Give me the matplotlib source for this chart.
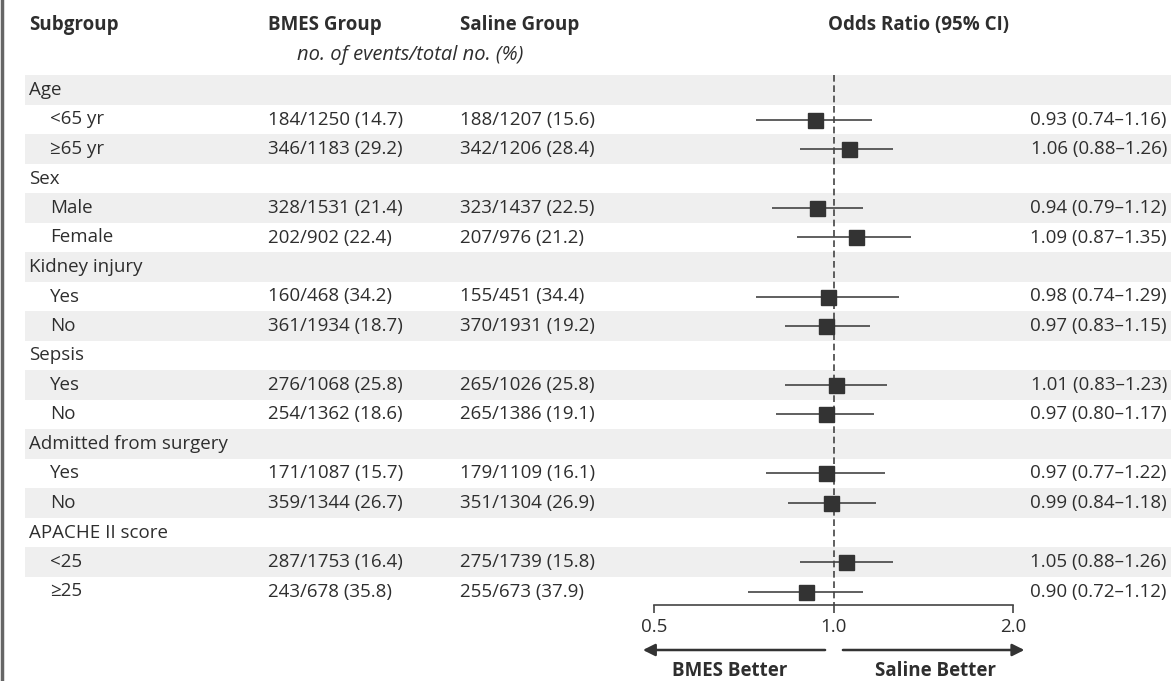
import matplotlib
matplotlib.use("Agg")
import matplotlib.pyplot as plt

plt.rcParams['font.family'] = ['Open Sans', 'DejaVu Sans']

# Subgroups: each group name followed by its levels
groups = ["Age", "Sex", "Kidney injury", "Sepsis", "Admitted from surgery", "APACHE II score"]
levels = [["<65 yr", "≥65 yr"], ["Male", "Female"], ["Yes", "No"],
          ["Yes", "No"], ["Yes", "No"], ["<25", "≥25"]]

# no. of events / total no. (%)
bmes_events = [184, 346, 328, 202, 160, 361, 276, 254, 171, 359, 287, 243]
bmes_total = [1250, 1183, 1531, 902, 468, 1934, 1068, 1362, 1087, 1344, 1753, 678]
bmes_pct = [14.7, 29.2, 21.4, 22.4, 34.2, 18.7, 25.8, 18.6, 15.7, 26.7, 16.4, 35.8]
saline_events = [188, 342, 323, 207, 155, 370, 265, 265, 179, 351, 275, 255]
saline_total = [1207, 1206, 1437, 976, 451, 1931, 1026, 1386, 1109, 1304, 1739, 673]
saline_pct = [15.6, 28.4, 22.5, 21.2, 34.4, 19.2, 25.8, 19.1, 16.1, 26.9, 15.8, 37.9]

# odds ratios with 95% CI
odds_ratio = [0.93, 1.06, 0.94, 1.09, 0.98, 0.97, 1.01, 0.97, 0.97, 0.99, 1.05, 0.90]
ci_low = [0.74, 0.88, 0.79, 0.87, 0.74, 0.83, 0.83, 0.80, 0.77, 0.84, 0.88, 0.72]
ci_high = [1.16, 1.26, 1.12, 1.35, 1.29, 1.15, 1.23, 1.17, 1.22, 1.18, 1.26, 1.12]

axis_ticks = [0.5, 1.0, 2.0]
axis_ticklabels = ["0.5", "1.0", "2.0"]

TXT = "#2e2e2e"
DARK = "#333333"
BAND = "#efefef"
FS = 13.5

W, H = 1171, 681
ROW0, ROW_H = 90, 29.5  # first row centre and row pitch, in pixels


def row(pix):
    return (pix - ROW0) / ROW_H


fig = plt.figure(figsize=(W / 100, H / 100), dpi=100)
bg = fig.add_axes([0, 0, 1, 1])
bg.set_xlim(0, W)
bg.set_ylim(row(H), row(0))
bg.axis("off")

ax = fig.add_axes([654 / W, 0, 359 / W, 1])
ax.set_xscale("log")
ax.set_xlim(0.5, 2.0)
ax.set_ylim(row(H), row(0))
ax.patch.set_visible(False)

# build the row table
rows = []
k = 0
for g, lv in zip(groups, levels):
    rows.append((g, None))
    for name in lv:
        rows.append((name, k))
        k += 1

for i, (label, idx) in enumerate(rows):
    if i % 2 == 0:
        bg.fill_between([25, W], i - 0.5, i + 0.5, color=BAND, lw=0, zorder=0)
    if idx is None:
        bg.text(29, i, label, fontsize=FS, color=TXT, va="center")
        continue
    bg.text(50, i, label, fontsize=FS, color=TXT, va="center")
    bg.text(268, i, f"{bmes_events[idx]}/{bmes_total[idx]} ({bmes_pct[idx]:.1f})",
            fontsize=FS, color=TXT, va="center")
    bg.text(460, i, f"{saline_events[idx]}/{saline_total[idx]} ({saline_pct[idx]:.1f})",
            fontsize=FS, color=TXT, va="center")
    bg.text(1167, i, f"{odds_ratio[idx]:.2f} ({ci_low[idx]:.2f}\u2013{ci_high[idx]:.2f})",
            fontsize=FS, color=TXT, va="center", ha="right")
    ax.plot([ci_low[idx], ci_high[idx]], [i, i], color="#444444", lw=1.2,
            solid_capstyle="butt", clip_on=False, zorder=2)
    ax.plot(odds_ratio[idx], i, marker="s", ms=10.8, color=DARK, mec=DARK,
            clip_on=False, zorder=3)

# column headers
bg.text(29, row(25), "Subgroup", fontsize=FS, fontweight="bold", color=TXT, va="center")
bg.text(268, row(25), "BMES Group", fontsize=FS, fontweight="bold", color=TXT, va="center")
bg.text(460, row(25), "Saline Group", fontsize=FS, fontweight="bold", color=TXT, va="center")
bg.text(410, row(55), "no. of events/total no. (%)", fontsize=14.5, style="italic",
        color=TXT, va="center", ha="center")
bg.text(918, row(25), "Odds Ratio (95% CI)", fontsize=FS, fontweight="bold",
        color=TXT, va="center", ha="center")

# left frame edge
bg.axvline(1.5, color="#666666", lw=2.5)

# reference line and axis
axis_y = row(605)
ax.vlines(1.0, -0.5, axis_y, colors="#444444", lw=1.2, linestyles=(0, (4, 2.2)), zorder=1)
for s in ["top", "left", "right"]:
    ax.spines[s].set_visible(False)
ax.spines["bottom"].set_position(("data", axis_y))
ax.spines["bottom"].set_color("#444444")
ax.spines["bottom"].set_linewidth(1.2)
ax.set_yticks([])
ax.set_xticks(axis_ticks)
ax.set_xticklabels(axis_ticklabels)
ax.minorticks_off()
ax.tick_params(axis="x", direction="out", length=6, width=1.2, color="#444444",
               labelsize=FS, labelcolor=TXT, pad=3)

# direction arrows
arrow_y = row(650)
arrow = dict(arrowstyle="-|>", color=DARK, lw=1.8, mutation_scale=18, shrinkA=0, shrinkB=0)
ax.annotate("", xy=(0.479, arrow_y), xytext=(0.968, arrow_y), arrowprops=arrow,
            annotation_clip=False)
ax.annotate("", xy=(2.09, arrow_y), xytext=(1.037, arrow_y), arrowprops=arrow,
            annotation_clip=False)
ax.text(0.67, row(671), "BMES Better", fontsize=FS, fontweight="bold", color=TXT,
        ha="center", va="center")
ax.text(1.48, row(671), "Saline Better", fontsize=FS, fontweight="bold", color=TXT,
        ha="center", va="center")

fig.savefig("out.png", dpi=100)
